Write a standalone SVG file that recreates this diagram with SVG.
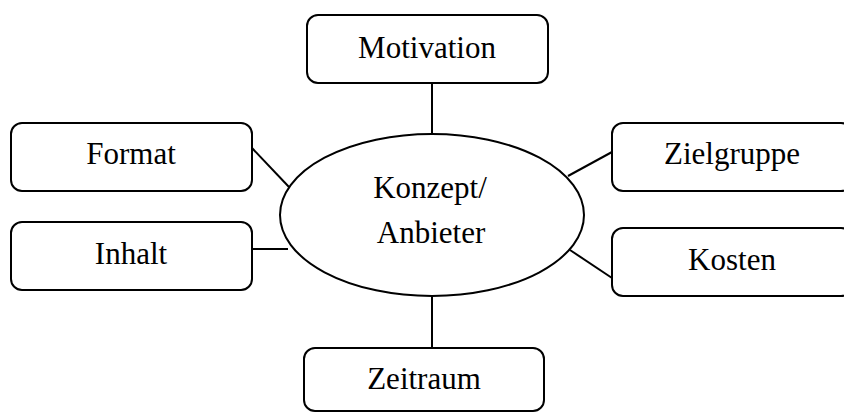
<svg xmlns="http://www.w3.org/2000/svg" width="844" height="414" viewBox="0 0 844 414">
<style>
.box{fill:#fff;stroke:#000;stroke-width:2}
.lbl{font-family:"Liberation Serif","Times New Roman",serif;font-size:31px;fill:#000;text-anchor:middle}
.conn line{stroke:#000;stroke-width:2}
</style>
<rect width="844" height="414" fill="#fff"/>
<g class="conn">
<line x1="432" y1="83" x2="432" y2="134"/>
<line x1="432" y1="296" x2="432" y2="348"/>
<line x1="252" y1="148" x2="289" y2="187"/>
<line x1="252" y1="249" x2="288" y2="249"/>
<line x1="568" y1="176" x2="612" y2="152"/>
<line x1="570" y1="250" x2="612" y2="278"/>
</g>
<g id="center"><ellipse class="box" cx="432" cy="215" rx="152" ry="81"/><text class="lbl" x="430" y="198">Konzept/</text><text class="lbl" x="431" y="243">Anbieter</text></g>
<g id="motivation"><rect class="box" x="307" y="15" width="241" height="68" rx="11"/><text class="lbl" x="427" y="58">Motivation</text></g>
<g id="format"><rect class="box" x="11" y="123" width="241" height="68" rx="11"/><text class="lbl" x="131" y="164">Format</text></g>
<g id="inhalt"><rect class="box" x="11" y="222" width="241" height="68" rx="11"/><text class="lbl" x="131" y="264">Inhalt</text></g>
<g id="zielgruppe"><rect class="box" x="612" y="123" width="240" height="68" rx="11"/><text class="lbl" x="732" y="164">Zielgruppe</text></g>
<g id="kosten"><rect class="box" x="612" y="228" width="240" height="68" rx="11"/><text class="lbl" x="732" y="270">Kosten</text></g>
<g id="zeitraum"><rect class="box" x="304" y="348" width="240" height="63" rx="11"/><text class="lbl" x="424" y="389">Zeitraum</text></g>
</svg>
